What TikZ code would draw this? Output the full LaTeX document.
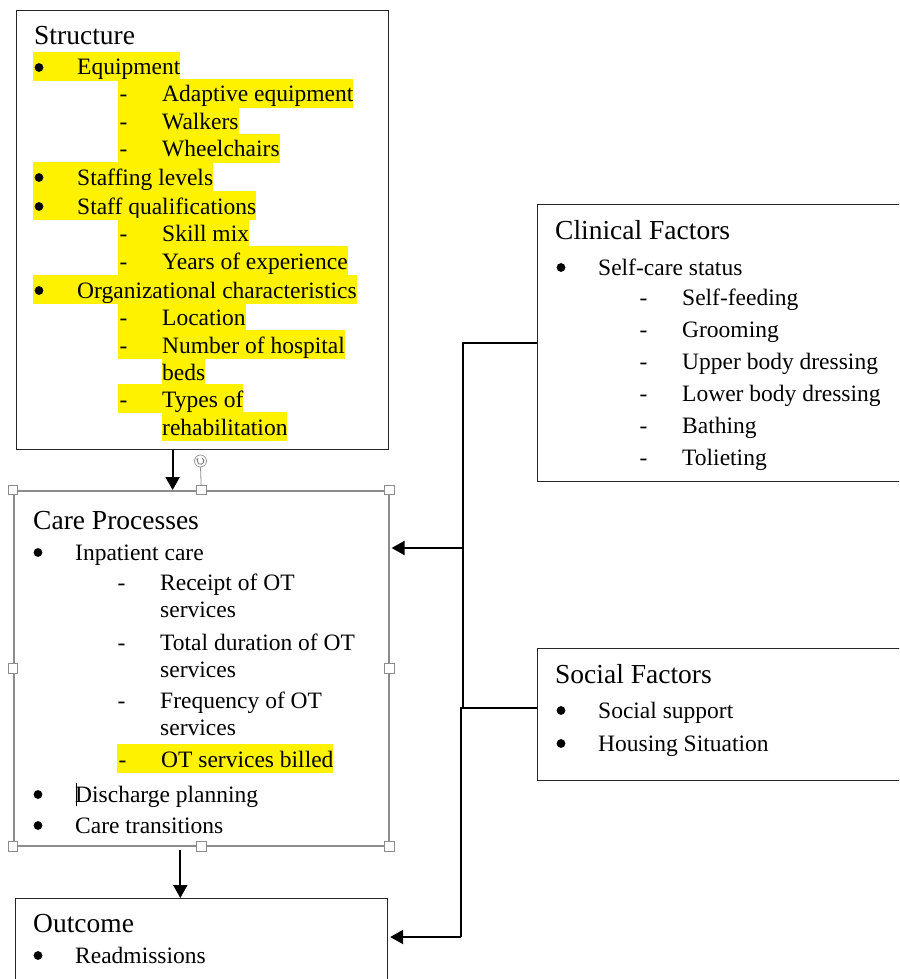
\documentclass[tikz,border=0pt]{standalone}
\usepackage{fontspec}
\setmainfont{Liberation Serif}
\usetikzlibrary{arrows.meta}
% list markers: a fixed tab before the item text (bullets are drawn as dots), or a dash
\newcommand\mybul{\makebox[44pt][l]{}}
\newcommand\mydash{\makebox[44pt][l]{\hspace{1.5pt}-}}
\begin{document}
\begin{tikzpicture}[x=1pt,y=-1pt,
  box/.style={draw=black!85, line width=1.2pt, anchor=north west, inner sep=0pt},
  selbox/.style={draw=black!45, line width=1.6pt, anchor=north west, inner sep=0pt},
  handle/.style={draw=black!45, fill=white, line width=0.8pt, minimum size=9.5pt, inner sep=0pt},
  conn/.style={line width=2.2pt, -{Triangle[length=13pt,width=14pt]}},
  wire/.style={line width=2.2pt},
  head/.style={anchor=base west, inner sep=0pt, font=\fontsize{27.5}{30}\selectfont},
  item/.style={anchor=base west, inner sep=0pt, font=\fontsize{23.5}{27}\selectfont},
  hl/.style={fill=yellow, text height=23pt, text depth=6pt},
  dot/.style={fill=black}]
\clip (0,0) rectangle (899,979);
\fill[white] (0,0) rectangle (899,979);

% ---------- boxes ----------
\node[box, minimum width=372pt, minimum height=439pt] (struct) at (16,10) {};
\node[selbox, minimum width=375pt, minimum height=355pt] (care) at (13,490) {};
\node[box, minimum width=372pt, minimum height=110pt] (outc) at (15,898) {};
\node[box, minimum width=380pt, minimum height=277pt] (clin) at (537,204) {};
\node[box, minimum width=380pt, minimum height=132pt] (soc) at (537,648) {};

% ---------- Structure ----------
\node[head] (s0) at (34,45) {Structure};
\node[item,hl] (s1) at (33,75) {\mybul Equipment};
\node[item,hl] (s2) at (118,102) {\mydash Adaptive equipment};
\node[item,hl] (s3) at (118,129) {\mydash Walkers};
\node[item,hl] (s4) at (118,157) {\mydash Wheelchairs};
\node[item,hl] (s5) at (33,185) {\mybul Staffing levels};
\node[item,hl] (s6) at (33,214) {\mybul Staff qualifications};
\node[item,hl] (s7) at (118,241) {\mydash Skill mix};
\node[item,hl] (s8) at (118,269) {\mydash Years of experience};
\node[item,hl] (s9) at (33,298) {\mybul Organizational characteristics};
\node[item,hl] (s10) at (118,325) {\mydash Location};
\node[item,hl] (s11) at (118,353) {\mydash Number of hospital};
\node[item,hl] (s12) at (162,380) {beds};
\node[item,hl] (s13) at (118,407) {\mydash Types of};
\node[item,hl] (s14) at (162,435) {rehabilitation};
\foreach \y in {75,185,214,298} \fill[dot] (39,\y-7.5) circle (4.4pt);

% ---------- Care Processes ----------
\node[head] (c0) at (33,529) {Care Processes};
\node[item] (c1) at (31,560) {\mybul Inpatient care};
\node[item] (c2) at (116,590) {\mydash Receipt of OT};
\node[item] (c3) at (160,617) {services};
\node[item] (c4) at (116,650) {\mydash Total duration of OT};
\node[item] (c5) at (160,677) {services};
\node[item] (c6) at (116,708) {\mydash Frequency of OT};
\node[item] (c7) at (160,735) {services};
\node[item,hl] (c8) at (117,767) {\mydash OT services billed};
\node[item] (c9) at (31,802) {\mybul Discharge planning};
\node[item] (c10) at (31,833) {\mybul Care transitions};
\foreach \y in {560,802,833} \fill[dot] (38,\y-7.5) circle (4.4pt);
% text caret
\draw[line width=0.8pt] (76,783) -- (76,806);

% ---------- Outcome ----------
\node[head] (o0) at (33,932) {Outcome};
\node[item] (o1) at (31,963) {\mybul Readmissions};
\fill[dot] (38,963-7.5) circle (4.4pt);

% ---------- Clinical Factors ----------
\node[head] (k0) at (555,239) {Clinical Factors};
\node[item] (k1) at (554,275) {\mybul Self-care status};
\node[item] (k2) at (638,305) {\mydash Self-feeding};
\node[item] (k3) at (638,337) {\mydash Grooming};
\node[item] (k4) at (638,369) {\mydash Upper body dressing};
\node[item] (k5) at (638,401) {\mydash Lower body dressing};
\node[item] (k6) at (638,433) {\mydash Bathing};
\node[item] (k7) at (638,465) {\mydash Tolieting};
\fill[dot] (561,275-7.5) circle (4.4pt);

% ---------- Social Factors ----------
\node[head] (f0) at (555,683) {Social Factors};
\node[item] (f1) at (554,718) {\mybul Social support};
\node[item] (f2) at (554,751) {\mybul Housing Situation};
\foreach \y in {718,751} \fill[dot] (561,\y-7.5) circle (4.4pt);

% ---------- connectors ----------
\draw[conn] ([xshift=-30pt]struct.south) -- ([xshift=-30pt]struct.south |- care.north);
\draw[conn] ([xshift=-21pt,yshift=-3pt]care.south) -- ([xshift=-21pt]care.south |- outc.north);

\coordinate (j1) at (463,343);
\coordinate (j2) at (463,548);
\coordinate (j3) at (461,708);
\coordinate (j4) at (461,937);
\draw[wire] (j1 -| clin.west) -- (j1) -- (j2) -- (j3 -| j2);
\draw[conn] (j2) -- ([xshift=2pt]j2 -| care.east);
\draw[wire] (j3 -| soc.west) -- (j3) -- (j4);
\draw[conn] (j4) -- ([xshift=2pt]j4 -| outc.east);

% ---------- selection handles ----------
\draw[black!45, line width=0.8pt] (care.north) -- (200.5,467);
\node[draw=black!40, fill=white, circle, minimum size=12pt, inner sep=0pt, line width=0.8pt] (rot) at (200.5,461) {};
\draw[black!55, line width=0.8pt, -{Stealth[length=2.5pt,width=3pt]}] ([shift={(60:3.3pt)}]rot.center) arc[start angle=60, end angle=-230, radius=3.3pt];
\foreach \p/\n in {north west/nw, north/n, north east/ne, west/w, east/e, south west/sw, south/s, south east/se}
  \node[handle] (h\n) at (care.\p) {};
\end{tikzpicture}
\end{document}
